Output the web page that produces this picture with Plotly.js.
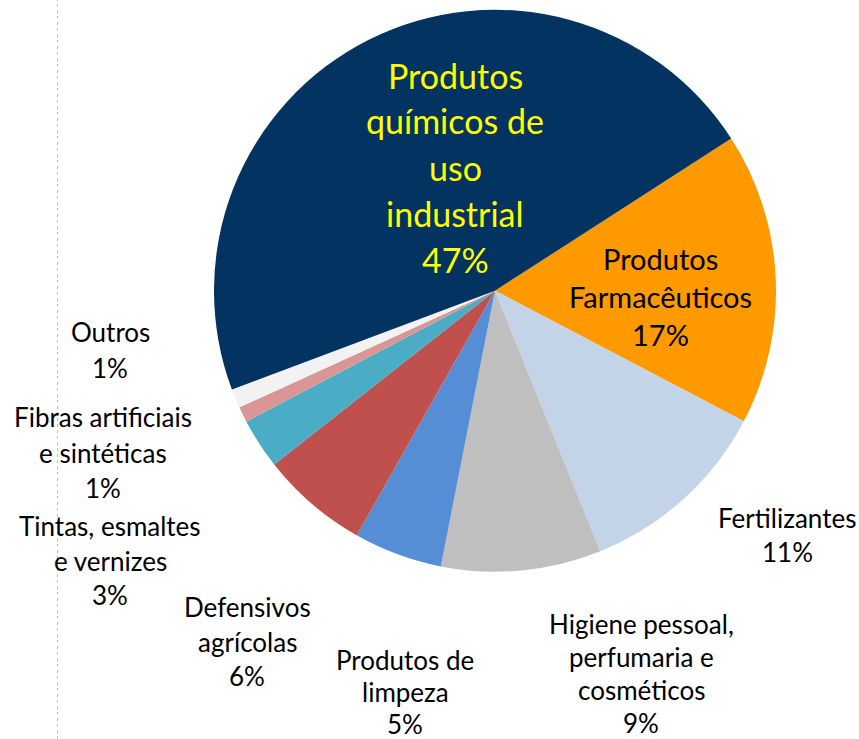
<!DOCTYPE html>
<html>
<head>
<meta charset="utf-8">
<script src="https://cdn.plot.ly/plotly-3.0.1.min.js"></script>
<style>html,body{margin:0;padding:0;background:#fff;}#chart{width:859px;height:739px;}</style>
</head>
<body>
<div id="chart"></div>
<script>
// Data (clockwise from the orange slice)
const categories = [
  "Produtos Farmacêuticos",
  "Fertilizantes",
  "Higiene pessoal, perfumaria e cosméticos",
  "Produtos de limpeza",
  "Defensivos agrícolas",
  "Tintas, esmaltes e vernizes",
  "Fibras artificiais e sintéticas",
  "Outros",
  "Produtos químicos de uso industrial"
];
const values = [16.8, 11.2, 9.2, 5.1, 6.2, 2.9, 0.9, 1.1, 46.6];
const percentLabels = ["17%", "11%", "9%", "5%", "6%", "3%", "1%", "1%", "47%"];
const labelLines = [
  ["Produtos", "Farmacêuticos"],
  ["Fertilizantes"],
  ["Higiene pessoal,", "perfumaria e", "cosméticos"],
  ["Produtos de", "limpeza"],
  ["Defensivos", "agrícolas"],
  ["Tintas, esmaltes", "e vernizes"],
  ["Fibras artificiais", "e sintéticas"],
  ["Outros"],
  ["Produtos", "químicos de", "uso", "industrial"]
];

// Styling / placement
const colors = ["#FF9900", "#C3D4E8", "#BFBFBF", "#558ED5", "#C0504D", "#4BACC6", "#D99694", "#F2F2F2", "#023361"];
const W = 859, H = 739;
const labelPos = [ // centre x, first line y (px), line spacing, font size, colour
  {x: 660, y: 258, dy: 38, size: 29, color: "#000"},
  {x: 787, y: 518, dy: 34, size: 26, color: "#000"},
  {x: 641, y: 624, dy: 33, size: 26, color: "#000"},
  {x: 405, y: 660, dy: 32, size: 26, color: "#000"},
  {x: 247, y: 607, dy: 34.5, size: 26, color: "#000"},
  {x: 110, y: 526, dy: 34.5, size: 26, color: "#000"},
  {x: 103, y: 417, dy: 35.5, size: 26, color: "#000"},
  {x: 110, y: 332, dy: 36, size: 26, color: "#000"},
  {x: 455, y: 75, dy: 46, size: 34, color: "#FFFF00"}
];

const annotations = [];
labelLines.forEach((lines, i) => {
  const p = labelPos[i];
  const all = lines.concat([percentLabels[i]]);
  all.forEach((t, k) => {
    annotations.push({
      text: t, xref: "paper", yref: "paper",
      x: p.x / W, y: 1 - (p.y + k * p.dy) / H,
      xanchor: "center", yanchor: "middle", showarrow: false, borderpad: 0,
      font: {family: "Lato, 'Noto Sans', sans-serif", size: p.size, color: p.color}
    });
  });
});

const trace = {
  type: "pie",
  labels: categories,
  values: values,
  sort: false,
  direction: "clockwise",
  rotation: 57.2,
  marker: {colors: colors, line: {width: 0}},
  textinfo: "none",
  hoverinfo: "label+percent",
  showlegend: false,
  domain: {x: [214 / W, 776 / W], y: [1 - 572 / H, 1 - 9.5 / H]}
};

const layout = {
  width: W, height: H,
  margin: {l: 0, r: 0, t: 0, b: 0},
  paper_bgcolor: "#fff",
  showlegend: false,
  annotations: annotations,
  shapes: [{
    type: "line", xref: "paper", yref: "paper",
    x0: 57.5 / W, x1: 57.5 / W, y0: 0, y1: 1,
    line: {color: "#BFBFBF", width: 1, dash: "dot"}
  }]
};

Plotly.newPlot("chart", [trace], layout, {displayModeBar: false, staticPlot: true});
</script>
</body>
</html>
